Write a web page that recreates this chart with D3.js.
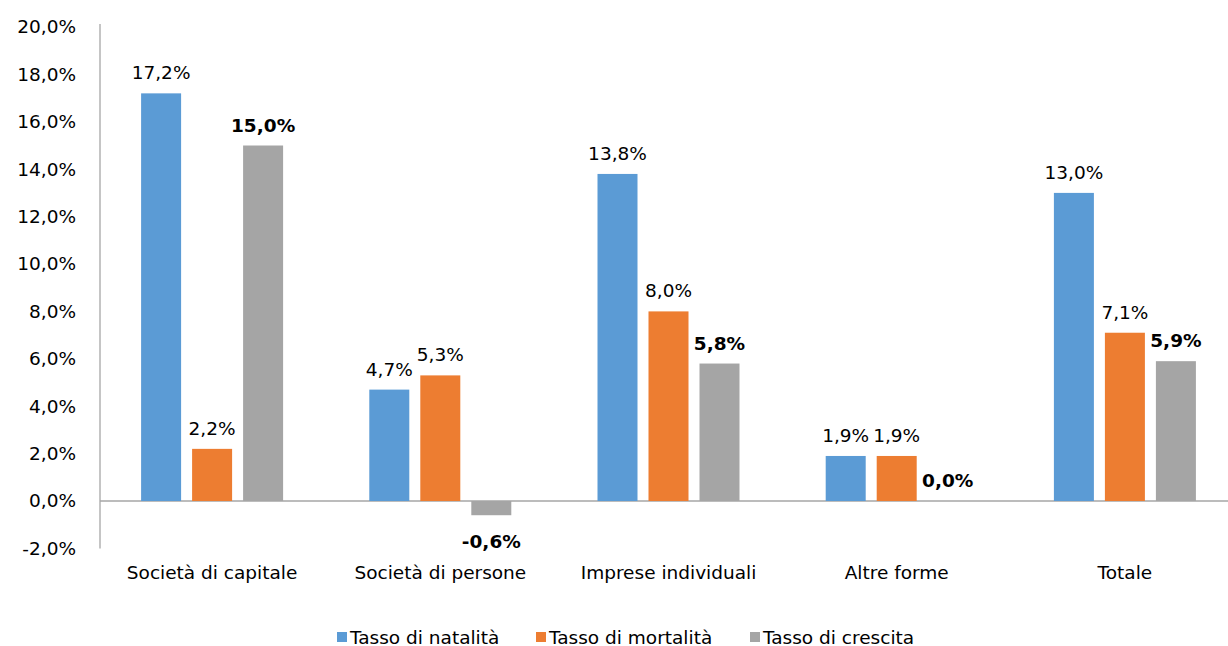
<!DOCTYPE html>
<html><head><meta charset="utf-8">
<script src="https://cdn.jsdelivr.net/npm/d3@7"></script>
<style>body{margin:0;background:#fff}svg{display:block}text{font-family:"DejaVu Sans",Verdana,sans-serif;fill:#000}</style>
</head><body><svg id="c" width="1228" height="646"></svg>
<script>
const categories = ["Società di capitale","Società di persone","Imprese individuali","Altre forme","Totale"];
const seriesNames = ["Tasso di natalità","Tasso di mortalità","Tasso di crescita"];
const natalita = [17.2,4.7,13.8,1.9,13.0];
const mortalita = [2.2,5.3,8.0,1.9,7.1];
const crescita = [15.0,-0.6,5.8,0.0,5.9];
const yTicks = [-2,0,2,4,6,8,10,12,14,16,18,20];
const colors = ["#5b9bd5","#ed7d31","#a5a5a5"];
const series = [natalita, mortalita, crescita];
const bold = [false,false,true];

(function(){
const svg = d3.select("#c");
const pl=100, pr=1240, pt=27, pb=548.4;
const y = d3.scaleLinear().domain([-2,20]).range([pb, pt]);
const x = d3.scaleBand().domain(categories).range([98,1239]);
const x1 = d3.scaleBand().domain(d3.range(3)).range([0,142]).paddingInner(11/51);
const fmt = v => v.toFixed(1).replace(".",",")+"%";
const fs = 18.5;

const ya = svg.append("g").attr("transform",`translate(${pl},0)`)
  .call(d3.axisLeft(y).tickValues(yTicks).tickSize(0).tickPadding(24).tickFormat(fmt));
ya.select(".domain").attr("stroke","#a6a6a6").attr("stroke-width",1.3).attr("d",`M0,${pt-3}V${pb}`);
ya.selectAll("text").attr("font-size",fs).attr("font-family","DejaVu Sans");

svg.append("line").attr("x1",pl).attr("x2",pr).attr("y1",y(0)).attr("y2",y(0))
  .attr("stroke","#a6a6a6").attr("stroke-width",1.3);

const xa = svg.append("g").attr("transform",`translate(0,${pb})`)
  .call(d3.axisBottom(x).tickSize(0).tickPadding(17));
xa.select(".domain").remove();
xa.selectAll("text").attr("font-size",fs).attr("font-family","DejaVu Sans");

categories.forEach((c,ci)=>{
  const gx = x(c) + x.bandwidth()/2 - 71;
  series.forEach((s,si)=>{
    const v = s[ci];
    const bx = gx + x1(si);
    const bw = x1.bandwidth();
    svg.append("rect").attr("x",bx).attr("width",bw)
      .attr("y",y(Math.max(0,v))).attr("height",Math.abs(y(v)-y(0)))
      .attr("fill",colors[si]);
    const ly = v>=0 ? y(v)-14 : y(v)+33;
    svg.append("text").attr("x",bx+bw/2).attr("y",ly).attr("text-anchor","middle")
      .attr("font-size",fs).attr("font-weight",bold[si]?"bold":"normal").text(fmt(v));
  });
});

const lx = [337,536,750];
seriesNames.forEach((n,i)=>{
  svg.append("rect").attr("x",lx[i]).attr("y",632).attr("width",10).attr("height",10).attr("fill",colors[i]);
  svg.append("text").attr("x",lx[i]+13).attr("y",643.5).attr("font-size",fs).text(n);
});
})();
</script></body></html>
